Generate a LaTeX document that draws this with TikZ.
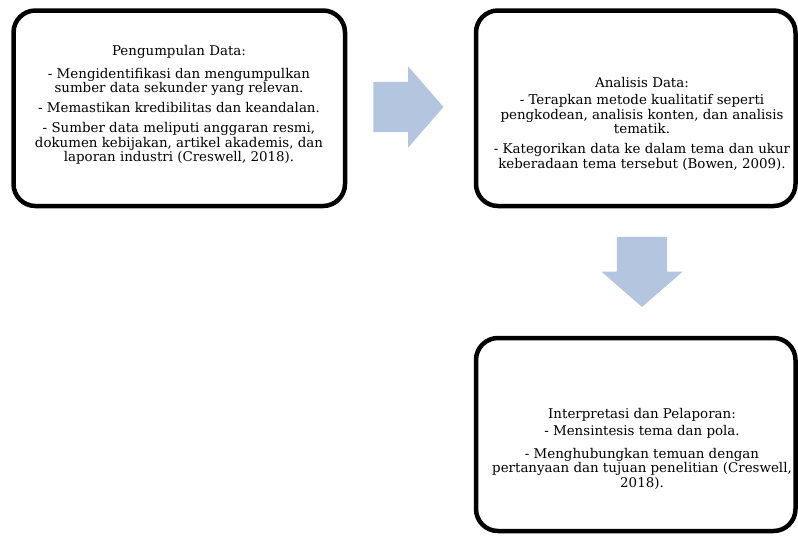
\documentclass[tikz,border=0pt]{standalone}
\usepackage{fontspec}
\setmainfont{DejaVu Serif}
\usetikzlibrary{shapes.arrows}

\definecolor{flowblue}{HTML}{B4C5E0}

\tikzset{
    stagebox/.style={draw, line width=4.5pt, rounded corners=22pt, inner sep=0pt},
    stagetext/.style={align=center, font=\fontsize{13.4}{14.5}\selectfont},
    flowarrow/.style={single arrow, fill=flowblue, draw=none, inner sep=0pt,
        inner ysep=25pt, minimum height=70pt, single arrow head extend=15.5pt,
        single arrow tip angle=98}
}

\begin{document}
\begin{tikzpicture}[x=1pt, y=-1pt]
            \useasboundingbox (0,0) rectangle (798,536);

            % Boxes
            \node[stagebox, minimum width=331.5pt, minimum height=195.5pt] (collect) at (179.25, 108.25) {};
            \node[stagebox, minimum width=319.5pt, minimum height=195.5pt] (analyse) at (635.75, 108.25) {};
            \node[stagebox, minimum width=319.5pt, minimum height=193pt] (report) at (635.75, 434.5) {};

            % Texts
            \node[stagetext] (collecttxt) at (179, 105) {Pengumpulan Data:\\[8.5pt]
                - Mengidentifikasi dan mengumpulkan\\ sumber data sekunder yang relevan.\\[5.5pt]
                - Memastikan kredibilitas dan keandalan.\\[5.5pt]
                - Sumber data meliputi anggaran resmi,\\ dokumen kebijakan, artikel akademis, dan\\ laporan industri (Creswell, 2018).};
            \node[stagetext] (analysetxt) at (642, 123.5) {Analisis Data:\\[3pt]
                - Terapkan metode kualitatif seperti\\ pengkodean, analisis konten, dan analisis\\ tematik.\\[5.5pt]
                - Kategorikan data ke dalam tema dan ukur\\ keberadaan tema tersebut (Bowen, 2009).};
            \node[stagetext] (reporttxt) at (642, 448.5) {Interpretasi dan Pelaporan:\\[3pt]
                - Mensintesis tema dan pola.\\[8pt]
                - Menghubungkan temuan dengan\\ pertanyaan dan tujuan penelitian (Creswell,\\ 2018).};

            % Arrows
            \node[flowarrow] (flow1) at (397.5, 107) {};
            \node[flowarrow, rotate=-90] (flow2) at (642, 261) {};
        \end{tikzpicture}
\end{document}
